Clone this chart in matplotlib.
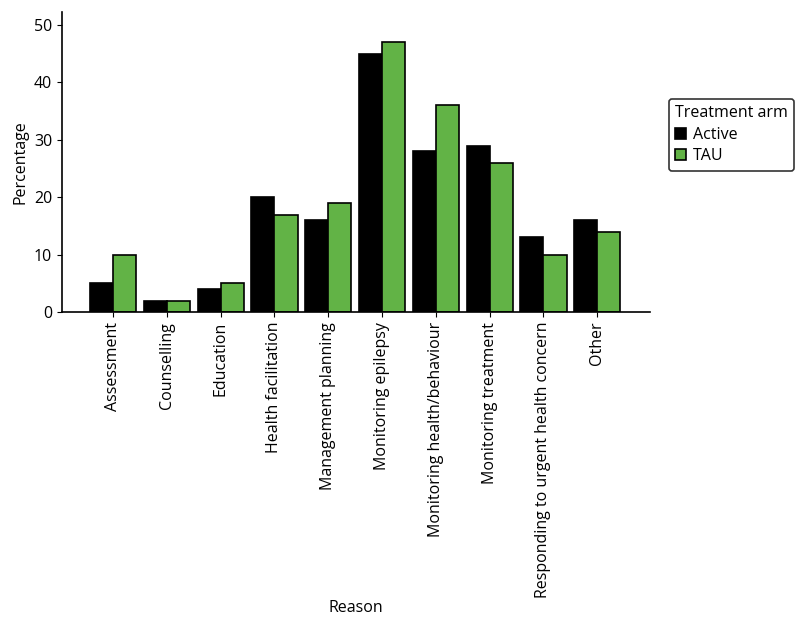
import matplotlib
matplotlib.use("Agg")
from matplotlib import pyplot as plt
import numpy as np

plt.rcParams["font.family"] = ["Open Sans", "DejaVu Sans"]

reasons = ["Assessment", "Counselling", "Education", "Health facilitation",
           "Management planning", "Monitoring epilepsy",
           "Monitoring health/behaviour", "Monitoring treatment",
           "Responding to urgent health concern", "Other"]
active = [5, 2, 4, 20, 16, 45, 28, 29, 13, 16]
tau = [10, 2, 5, 17, 19, 47, 36, 26, 10, 14]

fs = 11.5

fig = plt.figure(figsize=(8, 6.23), dpi=100)
ax = fig.add_axes([0.0775, 0.499, 0.735, 0.482])

x = np.arange(len(reasons))
w = 0.43
ax.bar(x - w / 2, active, w, color="black", edgecolor="black", linewidth=1.2, label="Active")
ax.bar(x + w / 2, tau, w, color="#62b346", edgecolor="black", linewidth=1.2, label="TAU")

ax.set_xlim(-0.95, 9.98)
ax.set_ylim(0, 52.3)
ax.set_yticks([0, 10, 20, 30, 40, 50])
ax.set_xticks(x)
ax.set_xticklabels(reasons, rotation=90, fontsize=fs)
ax.tick_params(axis="y", labelsize=fs)
ax.spines["top"].set_visible(False)
ax.spines["right"].set_visible(False)
ax.spines["left"].set_linewidth(1.2)
ax.spines["bottom"].set_linewidth(1.2)
ax.set_ylabel("Percentage", fontsize=fs)
ax.set_xlabel("Reason", fontsize=fs)
ax.xaxis.set_label_coords(0.5, -0.96)

leg = ax.legend(title="Treatment arm", loc="upper left", bbox_to_anchor=(1.032, 0.71),
                fontsize=fs, title_fontsize=fs, frameon=True, edgecolor="black",
                handlelength=0.7, handleheight=0.7, handletextpad=0.4, fancybox=True,
                borderpad=0.4, labelspacing=0.35, borderaxespad=0)
leg._legend_box.align = "left"
leg.get_frame().set_linewidth(1.2)

fig.savefig("out.png", dpi=100)
